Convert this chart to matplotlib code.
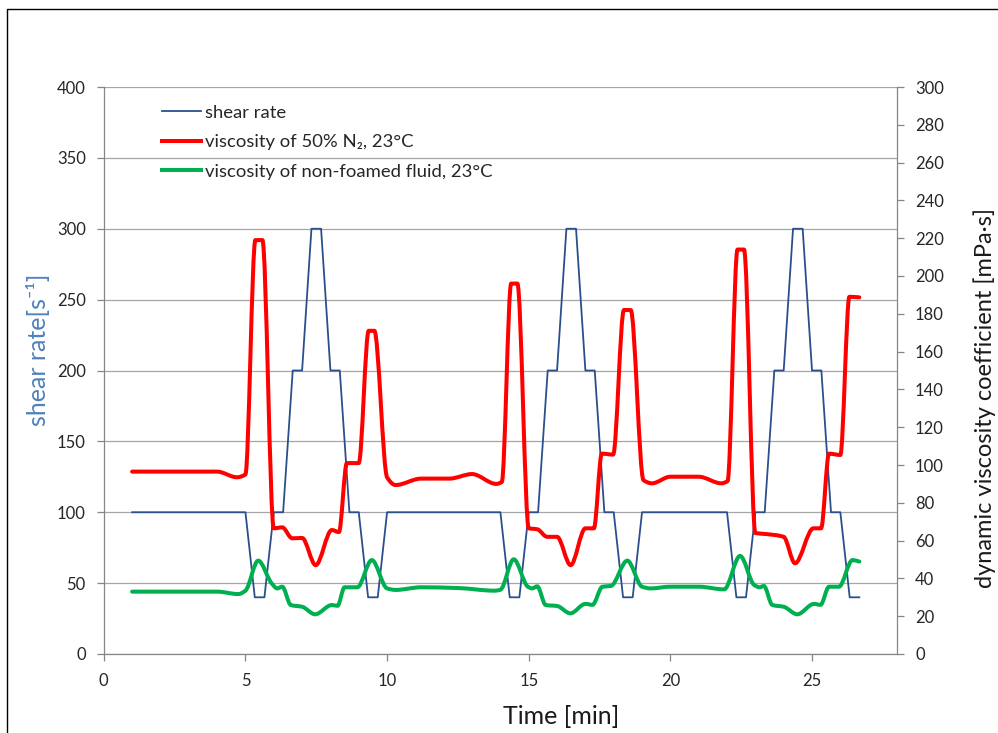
import numpy as np
import matplotlib
matplotlib.use("Agg")
import matplotlib.pyplot as plt
from matplotlib.path import Path
from matplotlib.patches import PathPatch
from matplotlib.lines import Line2D

# ---------------- data ----------------
shear_t = [1, 5, 5.33, 5.67, 6, 6.33, 6.67, 7, 7.33, 7.67, 8, 8.33, 8.67, 9, 9.33, 9.67, 10,
           14, 14.33, 14.67, 15, 15.33, 15.67, 16, 16.33, 16.67, 17, 17.33, 17.67, 18, 18.33, 18.67, 19,
           22, 22.33, 22.67, 23, 23.33, 23.67, 24, 24.33, 24.67, 25, 25.33, 25.67, 26, 26.33, 26.67]
shear_v = [100, 100, 40, 40, 100, 100, 200, 200, 300, 300, 200, 200, 100, 100, 40, 40, 100,
           100, 40, 40, 100, 100, 200, 200, 300, 300, 200, 200, 100, 100, 40, 40, 100,
           100, 40, 40, 100, 100, 200, 200, 300, 300, 200, 200, 100, 100, 40, 40]

foam_t = [1.0, 4.0, 4.7, 5.0, 5.35, 5.6, 6.0, 6.3, 6.65, 7.0, 7.48, 8.05, 8.3, 8.58, 9.0, 9.35, 9.55,
          10.0, 10.3, 11.2, 12.2, 13.0, 13.85, 14.05, 14.38, 14.6, 15.0, 15.3, 15.65, 16.0, 16.48, 17.0, 17.3,
          17.58, 17.98, 18.36, 18.6, 19.05, 19.35, 20.0, 21.0, 21.8, 22.02, 22.37, 22.6, 23.0, 23.35, 24.0,
          24.4, 25.05, 25.32, 25.6, 26.0, 26.32, 26.67]
foam_v = [96.5, 96.5, 93.5, 95, 219, 219, 66.5, 67, 61.2, 61.4, 47, 65.6, 64.5, 101, 101, 171, 171,
          93.5, 89.4, 92.8, 92.8, 95.2, 90, 91, 196, 196, 66.5, 66, 62, 62, 47, 66.5, 66.5,
          106, 105.5, 182, 182, 92, 90.3, 93.8, 93.8, 90.3, 91.5, 214, 214, 64, 63.5, 62,
          48, 66.5, 66.5, 106, 105.3, 189, 188.7]

base_t = [1.0, 4.0, 4.75, 5.0, 5.45, 5.92, 6.12, 6.3, 6.6, 7.0, 7.46, 8.05, 8.25, 8.5, 8.95, 9.46,
          10.0, 10.3, 11.2, 12.5, 13.8, 14.0, 14.47, 14.97, 15.12, 15.3, 15.6, 16.0, 16.47, 17.0, 17.25,
          17.6, 17.9, 18.48, 19.0, 19.3, 20.0, 21.0, 21.9, 22.46, 22.96, 23.15, 23.3, 23.6, 24.0, 24.48,
          25.07, 25.3, 25.6, 25.95, 26.43, 26.67]
base_v = [33, 33, 31.7, 33.5, 49.4, 37.5, 34.7, 35.6, 25.9, 25, 21, 25.9, 25.5, 35.3, 35.3, 49.7,
          34.7, 33.9, 35.3, 34.9, 33.5, 34, 50.1, 35.6, 34.7, 35.8, 25.9, 25.4, 21.5, 26.5, 26,
          35.6, 36, 49.4, 35.6, 34.7, 35.6, 35.6, 34.2, 51.9, 36.5, 35.3, 36, 25.9, 25, 21,
          26.5, 26, 35.6, 35.6, 49.7, 48.9]

x_ticks = [0, 5, 10, 15, 20, 25]
left_ticks = [0, 50, 100, 150, 200, 250, 300, 350, 400]
right_ticks = list(range(0, 301, 20))

labels = ["shear rate", "viscosity of 50% N\u2082, 23\u00b0C", "viscosity of non-foamed fluid, 23\u00b0C"]


def smooth_path(t, v):
    """Smoothed line (Excel-like) as cubic Bezier segments through the data points."""
    t = np.asarray(t, float)
    v = np.asarray(v, float)
    h = np.diff(t)
    d = np.diff(v) / h
    m = np.zeros_like(v)
    for k in range(1, len(v) - 1):
        if d[k - 1] * d[k] <= 0:
            m[k] = 0.0
        else:
            w1 = 2 * h[k] + h[k - 1]
            w2 = h[k] + 2 * h[k - 1]
            m[k] = (w1 + w2) / (w1 / d[k - 1] + w2 / d[k])
    m[0] = d[0]
    m[-1] = d[-1]
    verts = [(t[0], v[0])]
    codes = [Path.MOVETO]
    for i in range(len(v) - 1):
        verts += [(t[i] + h[i] / 3, v[i] + m[i] * h[i] / 3),
                  (t[i + 1] - h[i] / 3, v[i + 1] - m[i + 1] * h[i] / 3),
                  (t[i + 1], v[i + 1])]
        codes += [Path.CURVE4] * 3
    return Path(verts, codes)


FONT = ["Lato", "DejaVu Sans"]
plt.rcParams["font.family"] = FONT

W, H = 998, 733
fig = plt.figure(figsize=(W / 100, H / 100), dpi=100)
ax = fig.add_axes([103.8 / W, 1 - 654 / H, (897 - 103.8) / W, (654 - 87) / H])
ax2 = ax.twinx()

spine_c = "#868686"
grid_c = "#A6A6A6"
lab_c = "#262626"
blue = "#2B4F8C"
red = "#FF0000"
green = "#00B050"

ax.plot(shear_t, shear_v, color=blue, lw=1.3, zorder=2)
ax2.add_patch(PathPatch(smooth_path(foam_t, foam_v), fill=False, edgecolor=red, lw=2.9,
                        capstyle="round", joinstyle="round", zorder=3))
ax2.add_patch(PathPatch(smooth_path(base_t, base_v), fill=False, edgecolor=green, lw=2.9,
                        capstyle="round", joinstyle="round", zorder=3))

ax.set_xlim(0, 28)
ax.set_ylim(0, 400)
ax2.set_ylim(0, 300)
ax.set_xticks(x_ticks)
ax.set_yticks(left_ticks)
ax2.set_yticks(right_ticks)

ax.grid(axis="y", color=grid_c, lw=0.9)
ax.set_axisbelow(True)

for a in (ax, ax2):
    a.spines["top"].set_visible(False)
    for s in a.spines.values():
        s.set_color(spine_c)
        s.set_linewidth(0.9)
ax.spines["right"].set_visible(False)
ax2.spines["left"].set_visible(False)
ax2.spines["bottom"].set_visible(False)

ax.tick_params(axis="both", direction="out", length=5, width=0.9, color=spine_c,
               labelsize=12, labelcolor=lab_c, pad=8)
ax.tick_params(axis="x", pad=9)
ax2.tick_params(axis="y", direction="out", length=5, width=0.9, color=spine_c,
                labelsize=12, labelcolor=lab_c, pad=8)

handles = [Line2D([], [], color=blue, lw=1.3),
           Line2D([], [], color=red, lw=2.9),
           Line2D([], [], color=green, lw=2.9)]
leg = ax2.legend(handles, labels, loc="upper left", bbox_to_anchor=((162 - 103.8) / 793, 0.969),
                 frameon=False, fontsize=13.3, handlelength=2.1, handletextpad=0.2,
                 labelspacing=0.74, borderpad=0, borderaxespad=0)
for txt in leg.get_texts():
    txt.set_color(lab_c)

fig.text(38 / W, 1 - 350 / H, "shear rate[s\u207b\u00b9]", rotation=90, ha="center", va="center",
         fontsize=18, color="#4F81BD")
fig.text(985 / W, 1 - 398 / H, "dynamic viscosity coefficient [mPa\u00b7s]", rotation=90,
         ha="center", va="center", fontsize=17, color="#1a1a1a")
fig.text(561 / W, 1 - 716 / H, "Time [min]", ha="center", va="center", fontsize=18, color="#1a1a1a")

# outer chart border (left and top edges visible)
fig.add_artist(Line2D([7 / W, 7 / W, 1.0], [0.0, 1 - 9 / H, 1 - 9 / H], color="black", lw=1.0,
                      transform=fig.transFigure))

fig.savefig("out.png", dpi=100)
